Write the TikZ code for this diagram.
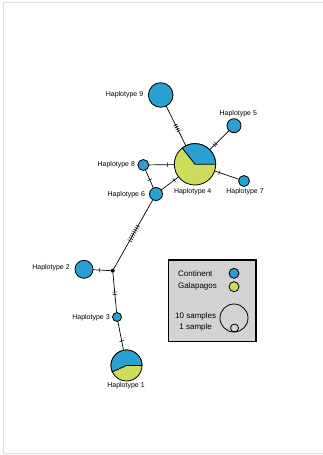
\documentclass[tikz,border=0pt]{standalone}
\usepackage{fontspec}
\setmainfont{Liberation Sans}
\definecolor{hapblue}{HTML}{28A0D2}
\definecolor{hapgreen}{HTML}{CDDC5A}
\definecolor{legendgray}{HTML}{D3D3D3}
\tikzset{
  hap/.style={circle, draw, line width=0.8pt, fill=hapblue, inner sep=0pt, outer sep=0pt, minimum size=#1},
  hlabel/.style={font=\fontsize{7}{8}\selectfont, inner sep=0pt},
  leglabel/.style={font=\fontsize{8}{9}\selectfont, inner sep=0pt},
  mut/.style={sloped, draw, line width=0.5pt, inner sep=0pt, minimum width=0pt, minimum height=4.5pt},
  link/.style={line width=0.7pt},
}
\begin{document}
\begin{tikzpicture}[x=1pt,y=1pt]
\useasboundingbox (0,0) rectangle (323,-455);
\draw[black!12, line width=1pt] (323,-2.5) -- (3,-2.5) -- (3,-453) -- (323,-453);
% haplotypes
\node[hap=24.6pt] (h9) at (160.7,-95) {};
\node[hap=41.4pt, fill=hapgreen] (h4) at (195,-164.3) {};
\node[hap=14pt] (h5) at (234,-125.7) {};
\node[hap=11pt] (h7) at (244,-181) {};
\node[hap=11pt] (h8) at (143.3,-165) {};
\node[hap=13pt] (h6) at (156,-194) {};
\node[circle, fill=black, inner sep=0pt, outer sep=0pt, minimum size=4pt] (mv) at (112.7,-270.7) {};
\node[hap=18pt] (h2) at (84,-269.3) {};
\node[hap=9pt] (h3) at (117,-317) {};
\node[hap=31pt, fill=hapgreen] (h1) at (126.5,-365.5) {};
% pie slices
\filldraw[fill=hapblue, line width=0.8pt] (h4.center) -- ++(20.7,0) arc[start angle=0, end angle=128, radius=20.7pt] -- cycle;
\filldraw[fill=hapblue, line width=0.8pt] (h1.center) -- ++(15.5,0) arc[start angle=0, end angle=204, radius=15.5pt] -- cycle;
% links
\draw[link] (h9) -- (h4);
\foreach \p in {0.48,0.53,0.58,0.63} \path (h9) -- (h4) node[pos=\p, mut] {};
\draw[link] (h5) -- (h4);
\foreach \p in {0.68,0.76} \path (h5) -- (h4) node[pos=\p, mut] {};
\draw[link] (h8) -- (h4) node[pos=0.73, mut] {};
\draw[link] (h7) -- (h4) node[pos=0.80, mut] {};
\draw[link] (h6) -- (h4) node[pos=0.75, mut] {};
\draw[link] (h8) -- (h6) node[pos=0.54, mut] {};
\draw[link] (h6) -- (mv);
\foreach \p in {0.381,0.411,0.441,0.471,0.501,0.531,0.561,0.591} \path (h6) -- (mv) node[pos=\p, mut] {};
\draw[link] (h2) -- (mv) node[pos=0.36, mut] {};
\draw[link] (mv) -- (h3);
\foreach \p in {0.485,0.545} \path (mv) -- (h3) node[pos=\p, mut] {};
\draw[link] (h3) -- (h1) node[pos=0.68, mut] {};
% labels
\node[hlabel] (l9) at (124.5,-95) {Haplotype 9};
\node[hlabel] (l5) at (238.3,-113.3) {Haplotype 5};
\node[hlabel] (l8) at (116.3,-164.3) {Haplotype 8};
\node[hlabel] (l4) at (192.7,-192) {Haplotype 4};
\node[hlabel] (l7) at (245,-191.7) {Haplotype 7};
\node[hlabel] (l6) at (126.3,-194.7) {Haplotype 6};
\node[hlabel] (l2) at (51,-267.3) {Haplotype 2};
\node[hlabel] (l3) at (91,-317.3) {Haplotype 3};
\node[hlabel] (l1) at (126,-386) {Haplotype 1};
% legend
\draw[fill=legendgray, line width=1.2pt] (168.7,-260) rectangle (256,-341.7);
\node[leglabel, anchor=west] (lcont) at (178,-273.3) {Continent};
\node[leglabel, anchor=west] (lgal) at (178,-286.7) {Galapagos};
\node[hap=10pt] (kcont) at (234,-273.3) {};
\node[hap=10pt, fill=hapgreen] (kgal) at (234,-286.7) {};
\node[leglabel] (lten) at (195.7,-316.7) {10 samples};
\node[leglabel] (lone) at (195.7,-327.3) {1 sample};
\node[hap=28pt, fill=none] (kten) at (234,-318) {};
\node[hap=8pt, fill=none] (kone) at (234.5,-328) {};
\end{tikzpicture}
\end{document}
